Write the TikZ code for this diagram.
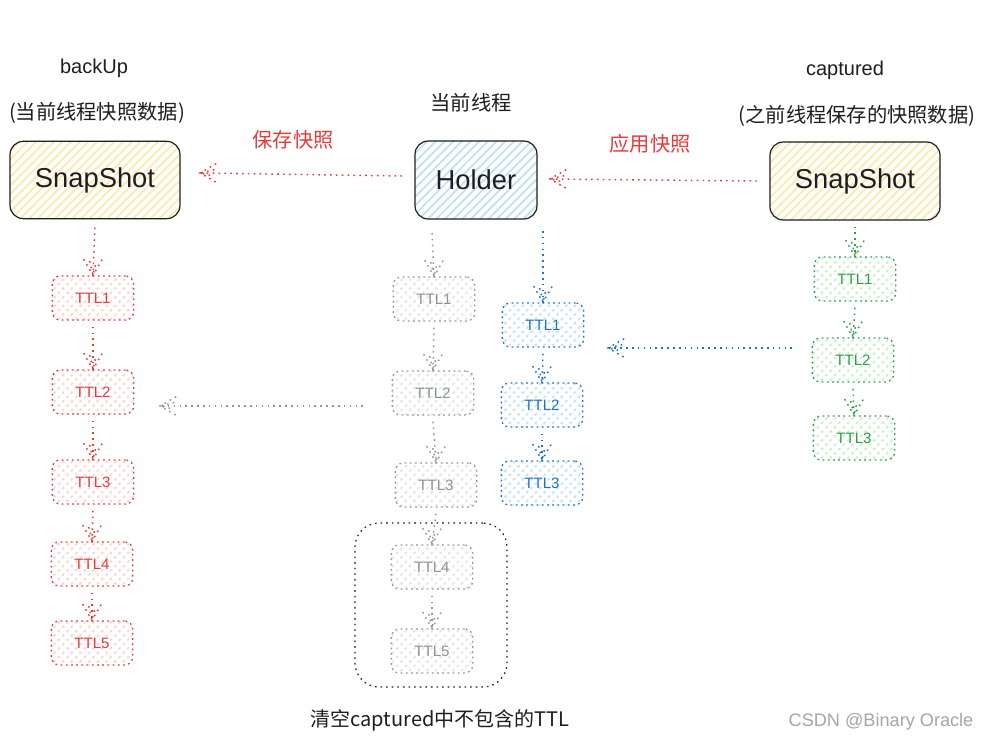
\documentclass[tikz,border=0pt]{standalone}
\usepackage{fontspec}
\setmainfont{Liberation Sans}
\newfontfamily\cjk{Noto Sans CJK SC}
\usetikzlibrary{calc,patterns.meta}
\definecolor{cred}{RGB}{228,60,60}
\definecolor{hred}{RGB}{250,210,210}
\definecolor{cgray}{RGB}{140,145,150}
\definecolor{lgray}{RGB}{150,150,150}
\definecolor{wgray}{RGB}{165,165,165}
\definecolor{hgray}{RGB}{228,228,228}
\definecolor{cblue}{RGB}{30,115,200}
\definecolor{hblue}{RGB}{192,223,249}
\definecolor{cgreen}{RGB}{45,160,70}
\definecolor{hgreen}{RGB}{200,238,200}
\definecolor{hyel}{RGB}{252,234,170}
\definecolor{cdark}{RGB}{30,30,30}
\newcommand\sktip[3]{%
  \draw[#1] (#2) ++(#3+30:14pt) -- (#2) -- ++(#3-30:14pt);
  \draw[#1] (#2) ++(#3+13:11pt) -- (#2) -- ++(#3-13:11pt);}
\newcommand\conn[4]{%
  \draw[#1] (#2) -- (#3);
  \sktip{#1}{#3}{#4}}
\tikzset{
  x=0.75pt, y=-0.75pt,
  hatch/.style={pattern={Lines[angle=45,distance=4.6pt,line width=1.3pt]}, pattern color=#1},
  bigbox/.style={draw=cdark, line width=0.9pt, rounded corners=10pt, font=\fontsize{20.5}{24}\selectfont, text=cdark, inner sep=0pt},
  ttl/.style={dash pattern=on 1.3pt off 2.6pt, line width=1pt, rounded corners=6pt, minimum width=61pt, minimum height=33pt, inner sep=0pt, font=\fontsize{11.3}{13}\selectfont},
  rttl/.style={ttl, draw=cred, text=cred, hatch=hred},
  gttl/.style={ttl, draw=lgray, text=cgray, hatch=hgray},
  bttl/.style={ttl, draw=cblue, text=cblue, hatch=hblue},
  grttl/.style={ttl, draw=cgreen, text=cgreen, hatch=hgreen},
  ln/.style={dash pattern=on 1.2pt off 3.2pt, line width=1.1pt, draw=#1},
  lbl/.style={font=\fontsize{15}{18}\selectfont, text=#1, inner sep=0pt},
  clbl/.style={font=\cjk\fontsize{15.2}{18}\selectfont, text=#1, inner sep=0pt},
}
\begin{document}
\begin{tikzpicture}
\fill[white] (0,0) rectangle (983,742);
\useasboundingbox (0,0) rectangle (983,742);

% top labels
\node[lbl=cdark] (lbk) at (94,68) {backUp};
\node[clbl=cdark] (lbkd) at (97,113) {(当前线程快照数据)};
\node[clbl=cdark] (lcur) at (471,103) {当前线程};
\node[lbl=cdark] (lcap) at (845,70) {captured};
\node[clbl=cdark] (lcapd) at (857,116) {(之前线程保存的快照数据)};
\node[clbl=cred] (lsave) at (293,140) {保存快照};
\node[clbl=cred] (lapply) at (650,144) {应用快照};

% big boxes
\node[bigbox, hatch=hyel, minimum width=127.5pt, minimum height=58pt] (snapL) at (95,180) {SnapShot};
\node[bigbox, hatch=hblue, minimum width=91.5pt, minimum height=58.5pt] (holder) at (476,180) {Holder};
\node[bigbox, hatch=hyel, minimum width=127.5pt, minimum height=58.5pt] (snapR) at (855,181) {SnapShot};

% red column
\node[rttl] (r1) at (93,298) {TTL1};
\node[rttl] (r2) at (93,392) {TTL2};
\node[rttl] (r3) at (93,482) {TTL3};
\node[rttl] (r4) at (92,564) {TTL4};
\node[rttl] (r5) at (92,643) {TTL5};

% group box
\node[draw=cdark, dash pattern=on 1.2pt off 3pt, line width=0.9pt, rounded corners=18pt, minimum width=114pt, minimum height=123pt, inner sep=0pt] (grp) at (431,605) {};

% gray column
\node[gttl] (g1) at (434,299) {TTL1};
\node[gttl] (g2) at (433,393) {TTL2};
\node[gttl] (g3) at (436,485) {TTL3};
\node[gttl] (g4) at (432,567) {TTL4};
\node[gttl] (g5) at (432,651) {TTL5};

% blue column
\node[bttl] (b1) at (543,325) {TTL1};
\node[bttl] (b2) at (542,405) {TTL2};
\node[bttl] (b3) at (542,483) {TTL3};

% green column
\node[grttl] (gr1) at (855,279) {TTL1};
\node[grttl] (gr2) at (853,360) {TTL2};
\node[grttl] (gr3) at (854,438) {TTL3};

% bottom labels
\node[clbl=cdark, font=\cjk\fontsize{15}{18}\selectfont] (lclear) at (440,720) {清空captured中不包含的TTL};
\node[lbl=wgray, font=\fontsize{13.6}{16}\selectfont] (wm) at (881,722) {CSDN @Binary Oracle};

% free ends
\coordinate (hL1) at (402,176);
\coordinate (hL2) at (200,173);
\coordinate (hR1) at (757,181);
\coordinate (hR2) at (550,179);
\coordinate (bg1) at (792,348);
\coordinate (bg2) at (608,348);
\coordinate (gr1a) at (363,406);
\coordinate (gr2a) at (160,406);
\coordinate (hb) at (543,231);
\coordinate (hg) at (432,233);

% red vertical
\conn{ln=cred}{$(snapL.south)+(0,8)$}{r1.north}{90}
\conn{ln=cred}{$(r1.south)+(0,6)$}{r2.north}{90}
\conn{ln=cred}{$(r2.south)+(0,6)$}{r3.north}{90}
\conn{ln=cred}{$(r3.south)+(0,6)$}{r4.north}{90}
\conn{ln=cred}{$(r4.south)+(0,6)$}{r5.north}{90}
% gray vertical
\conn{ln=lgray}{hg}{g1.north}{90}
\conn{ln=lgray}{$(g1.south)+(0,6)$}{g2.north}{90}
\conn{ln=lgray}{$(g2.south)+(0,6)$}{g3.north}{90}
\conn{ln=lgray}{$(g3.south)+(0,6)$}{g4.north}{90}
\conn{ln=lgray}{$(g4.south)+(0,6)$}{g5.north}{90}
% blue vertical
\conn{ln=cblue}{hb}{b1.north}{90}
\conn{ln=cblue}{$(b1.south)+(0,6)$}{b2.north}{90}
\conn{ln=cblue}{$(b2.south)+(0,6)$}{b3.north}{90}
% green vertical
\conn{ln=cgreen}{$(snapR.south)+(0,6)$}{gr1.north}{90}
\conn{ln=cgreen}{$(gr1.south)+(0,6)$}{gr2.north}{90}
\conn{ln=cgreen}{$(gr2.south)+(0,6)$}{gr3.north}{90}
% horizontal
\conn{ln=cred}{hL1}{hL2}{0}
\conn{ln=cred}{hR1}{hR2}{0}
\conn{ln=cblue}{bg1}{bg2}{0}
\conn{ln=lgray}{gr1a}{gr2a}{0}
\end{tikzpicture}
\end{document}
